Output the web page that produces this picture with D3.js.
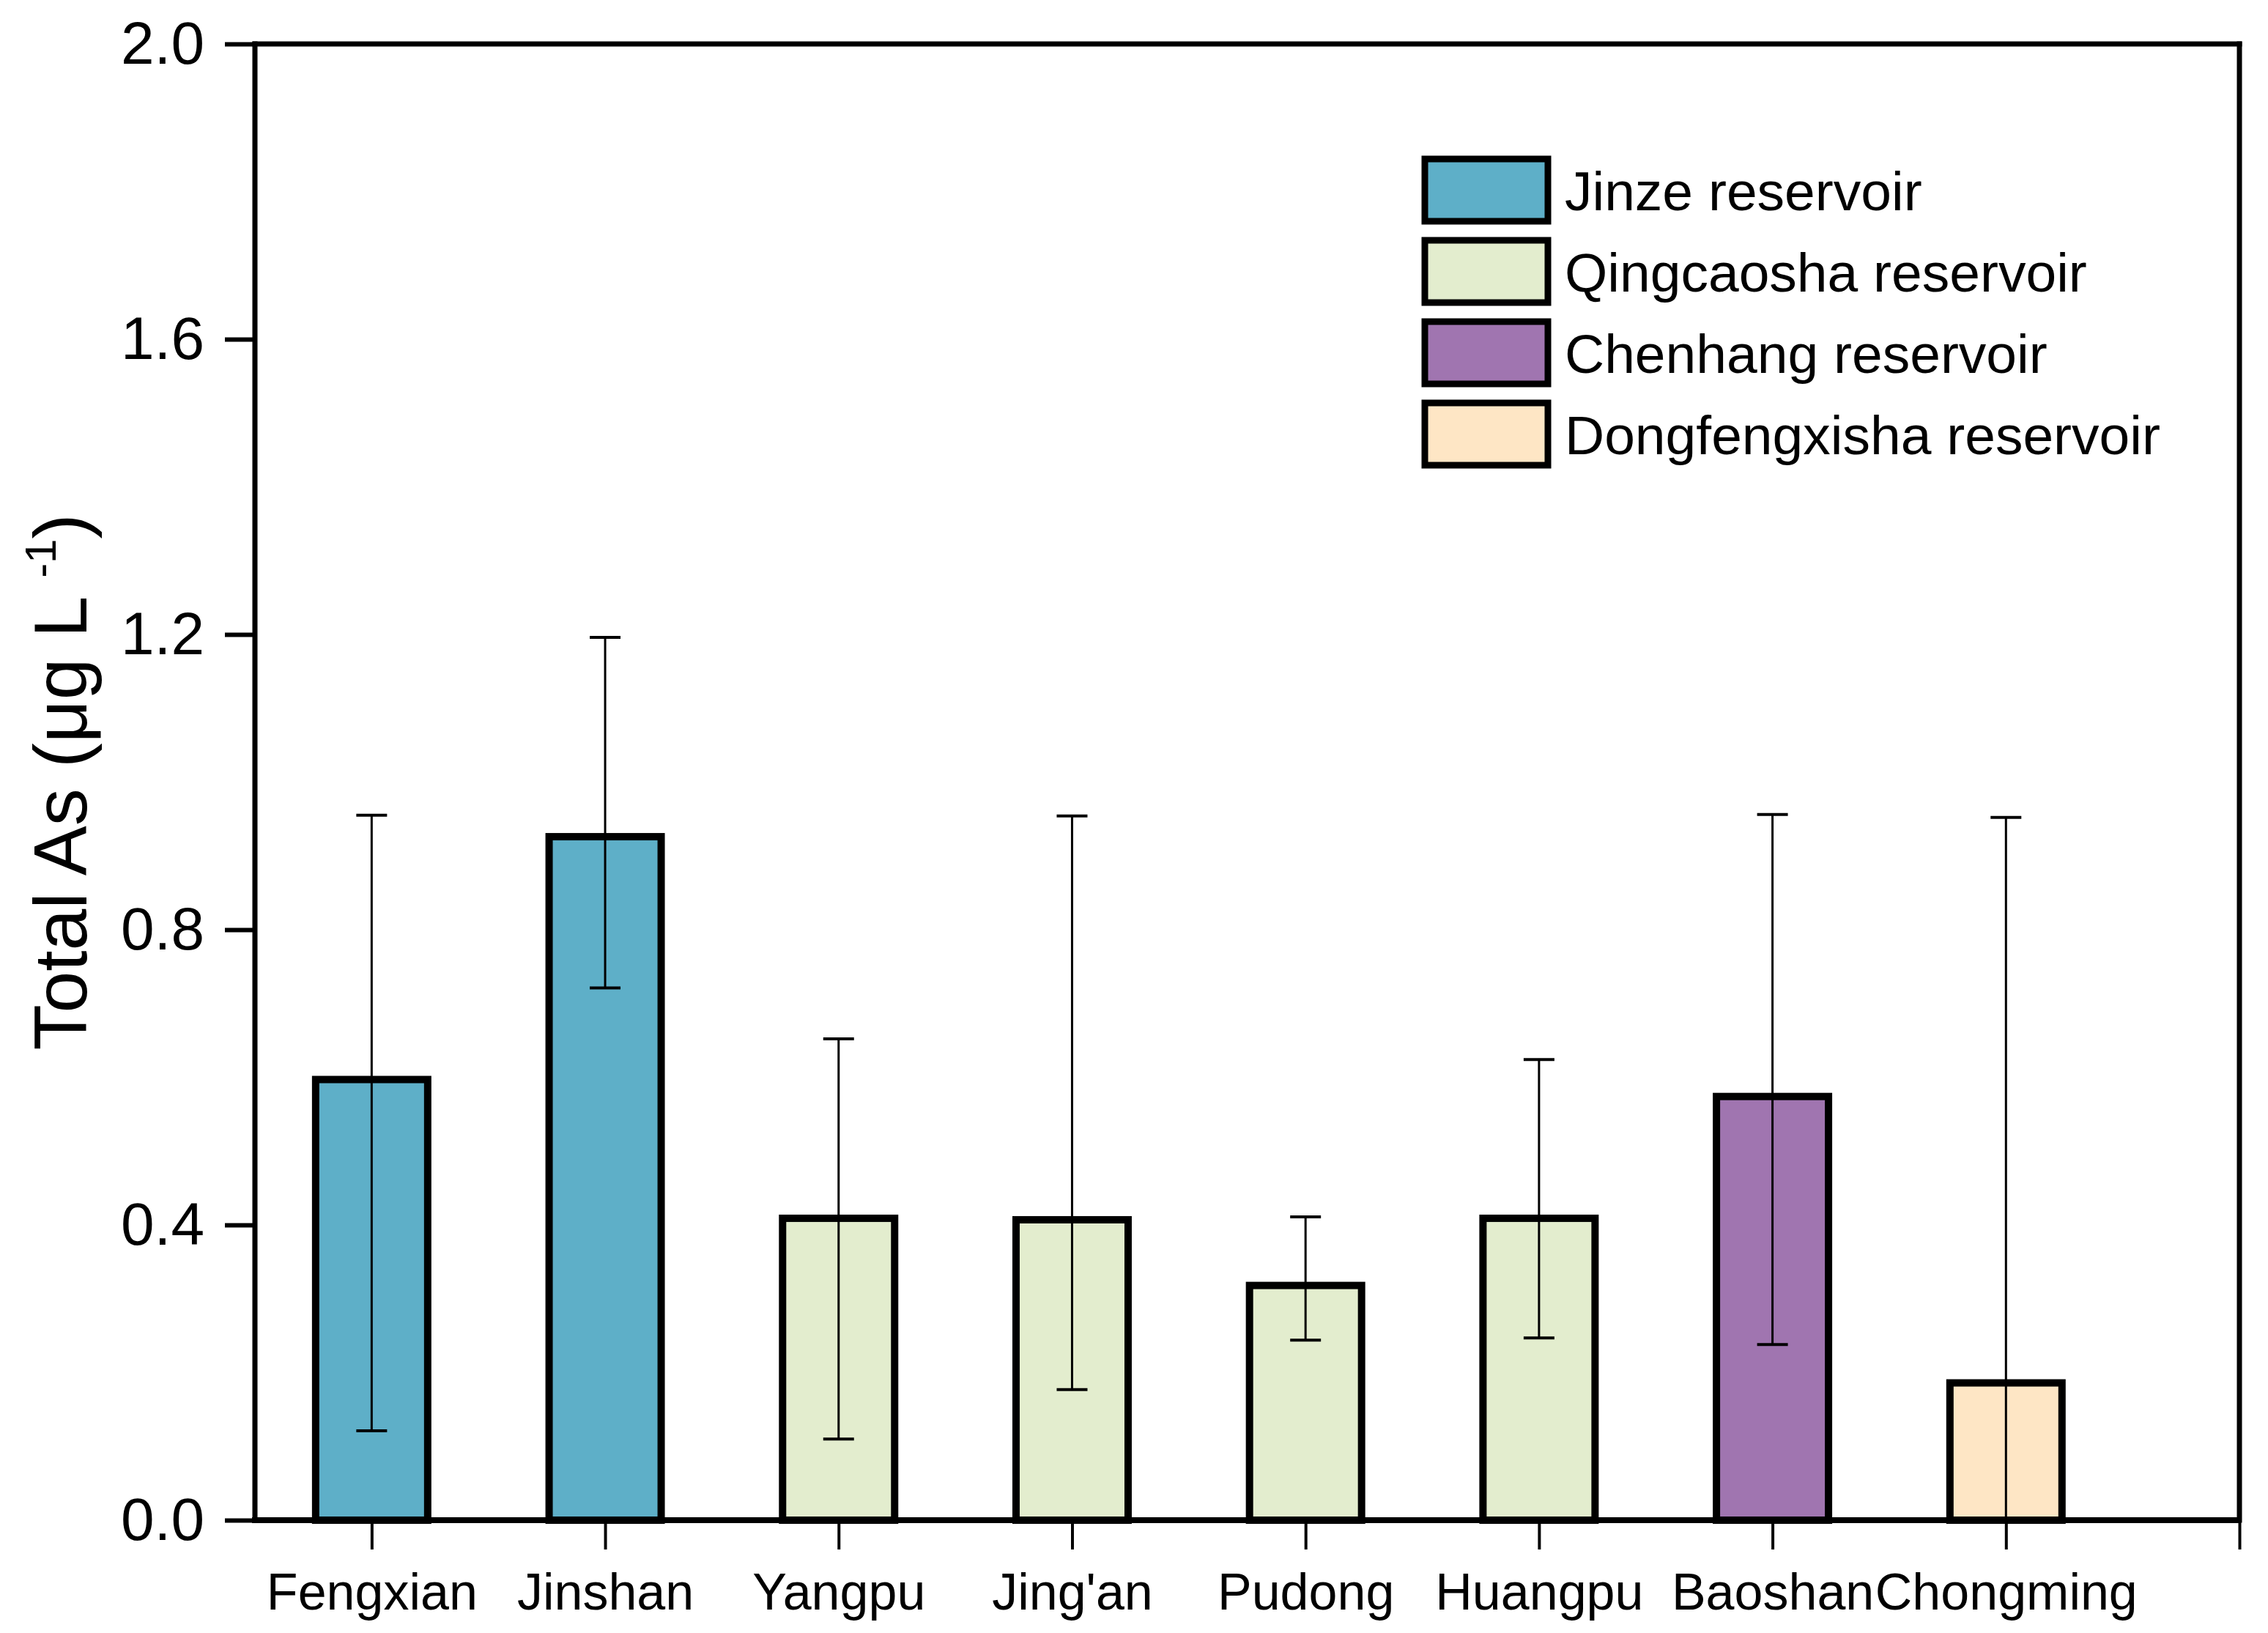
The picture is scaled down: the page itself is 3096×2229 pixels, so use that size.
<!DOCTYPE html>
<html>
<head>
<meta charset="utf-8">
<script src="https://cdn.jsdelivr.net/npm/d3@7"></script>
<style>
  html, body { margin: 0; padding: 0; background: #fff; overflow: hidden; }
  svg { display: block; }
  text { font-family: "Liberation Sans", Arial, sans-serif; fill: #000; }
</style>
</head>
<body>
<div id="chart"></div>
<script>
// data
const sites = ["Fengxian", "Jinshan", "Yangpu", "Jing'an", "Pudong", "Huangpu", "Baoshan", "Chongming"]
const siteGroup = ["Jinze", "Jinze", "Qingcaosha", "Qingcaosha", "Qingcaosha", "Qingcaosha", "Chenhang", "Dongfengxisha"]
const meanAs = [0.597, 0.926, 0.409, 0.407, 0.318, 0.409, 0.574, 0.186]
const upperAs = [0.955, 1.196, 0.652, 0.954, 0.411, 0.624, 0.956, 0.952]
const lowerAs = [0.121, 0.721, 0.110, 0.177, 0.244, 0.247, 0.238, 0.0]

const groups = ["Jinze", "Qingcaosha", "Chenhang", "Dongfengxisha"]
const groupLabels = ["Jinze reservoir", "Qingcaosha reservoir", "Chenhang reservoir", "Dongfengxisha reservoir"]
const groupColors = ["#5eafc8", "#e3edce", "#a075b0", "#fee6c5"]

const yTicks = [0, 0.4, 0.8, 1.2, 1.6, 2.0]

const width = 3096, height = 2229
const margin = { top: 60, right: 39, bottom: 154, left: 348 }
const innerWidth = width - margin.left - margin.right
const innerHeight = height - margin.top - margin.bottom

const svg = d3.select("#chart")
  .append("svg")
  .attr("width", width)
  .attr("height", height)
  .attr("viewBox", [0, 0, width, height])

const g = svg.append("g")
  .attr("transform", `translate(${margin.left},${margin.top})`)

// x is a numeric position axis (Origin style), slots 1..8, ends at 0.5 and 9
const x = d3.scaleLinear().domain([0.5, 9]).range([0, innerWidth])
const y = d3.scaleLinear().domain([0, 2]).range([innerHeight, 0])
const color = d3.scaleOrdinal().domain(groups).range(groupColors)

const slot = x(2) - x(1)
const barW = slot * 0.48

const rows = sites.map((s, i) => ({
  site: s, pos: i + 1, group: siteGroup[i],
  mean: meanAs[i], hi: upperAs[i], lo: lowerAs[i]
}))

// Barras
g.selectAll("rect.bar")
  .data(rows)
  .join("rect")
  .attr("class", "bar")
  .attr("x", d => x(d.pos) - barW / 2)
  .attr("y", d => y(d.mean))
  .attr("width", barW)
  .attr("height", d => y(0) - y(d.mean))
  .attr("fill", d => color(d.group))
  .attr("stroke", "#000")
  .attr("stroke-width", 10)

// Error bars (drawn over the bars)
const capW = 42
const err = g.selectAll("g.err").data(rows).join("g").attr("class", "err")
err.append("line")
  .attr("x1", d => x(d.pos)).attr("x2", d => x(d.pos))
  .attr("y1", d => y(d.hi)).attr("y2", d => y(d.lo))
  .attr("stroke", "#000").attr("stroke-width", 3)
err.append("line")
  .attr("x1", d => x(d.pos) - capW / 2).attr("x2", d => x(d.pos) + capW / 2)
  .attr("y1", d => y(d.hi)).attr("y2", d => y(d.hi))
  .attr("stroke", "#000").attr("stroke-width", 4)
err.filter(d => d.lo > 0).append("line")
  .attr("x1", d => x(d.pos) - capW / 2).attr("x2", d => x(d.pos) + capW / 2)
  .attr("y1", d => y(d.lo)).attr("y2", d => y(d.lo))
  .attr("stroke", "#000").attr("stroke-width", 4)

// Frame
const frame = [
  [0, 0, innerWidth, 0],
  [innerWidth, 0, innerWidth, innerHeight],
  [0, 0, 0, innerHeight]
]
g.selectAll("line.frame").data(frame).join("line")
  .attr("class", "frame")
  .attr("x1", d => d[0]).attr("y1", d => d[1])
  .attr("x2", d => d[2]).attr("y2", d => d[3])
  .attr("stroke", "#000").attr("stroke-width", 7).attr("stroke-linecap", "square")

// Eje Y
const yAxis = g.append("g")
  .call(d3.axisLeft(y).tickValues(yTicks).tickFormat(d3.format(".1f")).tickSize(41).tickPadding(28))
yAxis.select(".domain").remove()
yAxis.selectAll(".tick line").attr("stroke", "#000").attr("stroke-width", 6)
yAxis.selectAll(".tick text")
  .attr("font-size", 82)
  .attr("font-family", "Liberation Sans, Arial, sans-serif")
  .attr("fill", "#000")

// Eje X
const xAxis = g.append("g")
  .attr("transform", `translate(0,${innerHeight})`)
  .call(d3.axisBottom(x).tickValues(d3.range(1, 10)).tickFormat(d => sites[d - 1] || "").tickSize(40))
xAxis.select(".domain").remove()
xAxis.selectAll(".tick line").attr("stroke", "#000").attr("stroke-width", 4)
xAxis.selectAll(".tick text")
  .attr("font-size", 70)
  .attr("font-family", "Liberation Sans, Arial, sans-serif")
  .attr("fill", "#000")
  .attr("y", 122)
  .attr("dy", 0)

g.append("line")
  .attr("x1", -4).attr("x2", innerWidth)
  .attr("y1", innerHeight).attr("y2", innerHeight)
  .attr("stroke", "#000").attr("stroke-width", 8)

// Y label
const ylab = svg.append("text")
  .attr("transform", `translate(118,${margin.top + innerHeight / 2}) rotate(-90)`)
  .attr("text-anchor", "middle")
  .attr("font-size", 102)
ylab.append("tspan").text("Total As (μg L ")
ylab.append("tspan").attr("font-size", 60).attr("dy", -42).text("-1")
ylab.append("tspan").attr("dy", 42).text(")")

// Leyenda
const legend = svg.append("g").attr("transform", "translate(1945,217)")
const boxW = 168, boxH = 85, rowH = 111
const item = legend.selectAll("g").data(groups).join("g")
  .attr("transform", (d, i) => `translate(0,${i * rowH})`)
item.append("rect")
  .attr("width", boxW).attr("height", boxH)
  .attr("fill", d => color(d))
  .attr("stroke", "#000").attr("stroke-width", 9)
item.append("text")
  .attr("x", 191).attr("y", boxH / 2).attr("dy", "0.36em")
  .attr("font-size", 75)
  .text((d, i) => groupLabels[i])
</script>
</body>
</html>
